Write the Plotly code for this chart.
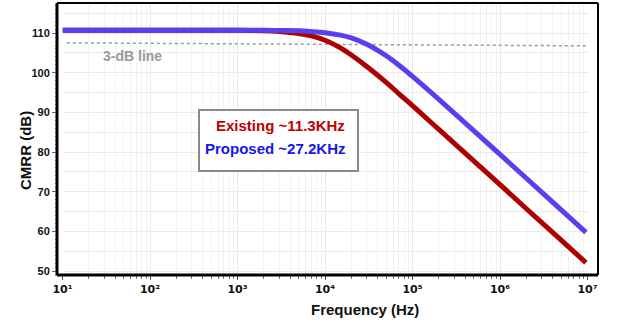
import plotly.graph_objects as go

# ---- data ----
freq_hz = [10, 100, 1000, 2000, 3000, 5000, 7000, 10000, 15000, 20000, 30000,
           50000, 70000, 100000, 200000, 500000, 1000000, 2000000, 5000000, 9600000]
existing_db = [110.7, 110.7, 110.7, 110.6, 110.4, 109.9, 109.3, 108.2, 106.3, 104.5, 101.6,
               97.6, 94.7, 91.7, 85.7, 77.8, 71.8, 65.7, 57.8, 52.1]
proposed_db = [110.7, 110.7, 110.7, 110.7, 110.65, 110.6, 110.4, 110.1, 109.5, 108.8, 107.2,
               104.3, 101.9, 99.1, 93.3, 85.4, 79.4, 73.4, 65.4, 59.75]
line3db_hz = [11.2, 9600000]
line3db_db = [107.55, 106.8]

x_tick_vals = [10, 100, 1000, 10000, 100000, 1000000, 10000000]
x_tick_text = ["10¹", "10²", "10³", "10⁴", "10⁵", "10⁶", "10⁷"]
y_tick_vals = [50, 60, 70, 80, 90, 100, 110]
y_tick_text = ["50", "60", "70", "80", "90", "100", "110"]

legend_labels = ["Existing ~11.3KHz", "Proposed ~27.2KHz"]

# ---- layout geometry (pixels) ----
W, H = 627, 325
L, R, T, B = 57, 29, 3, 50
PW = W - L - R
PH = H - T - B


def px_x(p):
    return (p - L) / PW


def px_y(p):
    return (H - B - p) / PH


FONT = "Liberation Sans, Arial, sans-serif"
TICKFONT = "DejaVu Sans, Liberation Sans, sans-serif"
RED = "#ad0000"
BLUE = "#5a3ff0"
YRANGE = [49, 117.6]

fig = go.Figure()
fig.add_trace(go.Scatter(x=line3db_hz, y=line3db_db, mode="lines",
                         line=dict(color="#9a9a9a", width=1.5, dash="3px,3px"),
                         showlegend=False, hoverinfo="skip"))
fig.add_trace(go.Scatter(x=freq_hz, y=existing_db, mode="lines", line_shape="spline",
                         line=dict(color=RED, width=5), showlegend=False))
fig.add_trace(go.Scatter(x=freq_hz, y=proposed_db, mode="lines", line_shape="spline",
                         line=dict(color=BLUE, width=5), showlegend=False))
# invisible helper trace on the overlay axis so it renders its fine ticks
fig.add_trace(go.Scatter(x=[freq_hz[0]], y=[existing_db[0]], yaxis="y2", mode="markers",
                         marker=dict(opacity=0), showlegend=False, hoverinfo="skip"))

fig.update_layout(
    width=W, height=H,
    margin=dict(l=L, r=R, t=T, b=B),
    paper_bgcolor="white", plot_bgcolor="white",
    font=dict(family=FONT, color="#111"),
    xaxis=dict(
        type="log", range=[1, 7],
        domain=[px_x(62.5), px_x(587.5)],
        tickvals=x_tick_vals, ticktext=x_tick_text,
        tickfont=dict(size=11, weight="bold", family=TICKFONT, color="#111"),
        ticks="outside", ticklen=4, tickcolor="#555", tickwidth=1,
        showgrid=True, gridcolor="#e6e6e6", gridwidth=1,
        showline=False, zeroline=False,
        minor=dict(dtick="D1", ticks="outside", ticklen=3, tickcolor="#777",
                   showgrid=True, gridcolor="#f2f2f2", gridwidth=1),
    ),
    yaxis=dict(
        range=YRANGE,
        anchor="free", position=0,
        tickvals=y_tick_vals, ticktext=y_tick_text,
        tickfont=dict(size=11, weight="bold", family=FONT, color="#111"),
        ticks="outside", ticklen=5, tickcolor="#666", tickwidth=1,
        showgrid=True, gridcolor="#eaeaea", gridwidth=1,
        showline=False, zeroline=False,
        minor=dict(dtick=5, tick0=50, ticks="", showgrid=True,
                   gridcolor="#eaeaea", gridwidth=1),
    ),
    yaxis2=dict(
        range=YRANGE, overlaying="y",
        anchor="free", position=0, side="left",
        dtick=1, tick0=50, showticklabels=False,
        ticks="outside", ticklen=2, tickcolor="#888", tickwidth=1,
        showgrid=False, showline=False, zeroline=False,
    ),
)

# frame
fig.add_shape(type="line", xref="paper", yref="paper", x0=0, x1=0, y0=0, y1=1,
              line=dict(color="black", width=3))
fig.add_shape(type="line", xref="paper", yref="paper", x0=0, x1=1, y0=0, y1=0,
              line=dict(color="black", width=3))
fig.add_shape(type="line", xref="paper", yref="paper", x0=0, x1=1, y0=1, y1=1,
              line=dict(color="black", width=2))
fig.add_shape(type="line", xref="paper", yref="paper", x0=1, x1=1, y0=0, y1=1,
              line=dict(color="black", width=2))

# text box
fig.add_shape(type="rect", xref="paper", yref="paper",
              x0=px_x(199), x1=px_x(358), y0=px_y(171), y1=px_y(110),
              line=dict(color="#8a8a8a", width=2), fillcolor="white", layer="above")
fig.add_annotation(xref="paper", yref="paper", x=px_x(347), y=px_y(126),
                   xanchor="right", yanchor="middle", showarrow=False,
                   text=legend_labels[0],
                   font=dict(size=15, weight="bold", color="#c00000", family=FONT))
fig.add_annotation(xref="paper", yref="paper", x=px_x(347), y=px_y(148),
                   xanchor="right", yanchor="middle", showarrow=False,
                   text=legend_labels[1],
                   font=dict(size=15, weight="bold", color="#1515f0", family=FONT))

# 3-dB label
fig.add_annotation(xref="paper", yref="paper", x=px_x(101), y=px_y(56),
                   xanchor="left", yanchor="middle", showarrow=False,
                   text="3-dB line",
                   font=dict(size=14, weight="bold", color="#999999", family=FONT))

# axis titles
fig.add_annotation(xref="paper", yref="paper", x=px_x(365), y=px_y(309),
                   xanchor="center", yanchor="middle", showarrow=False,
                   text="Frequency (Hz)",
                   font=dict(size=15, weight="bold", color="#111", family=FONT))
fig.add_annotation(xref="paper", yref="paper", x=px_x(25), y=px_y(151),
                   xanchor="center", yanchor="middle", showarrow=False,
                   text="CMRR (dB)", textangle=-90,
                   font=dict(size=15, weight="bold", color="#111", family=FONT))

fig.write_html("out.html")
